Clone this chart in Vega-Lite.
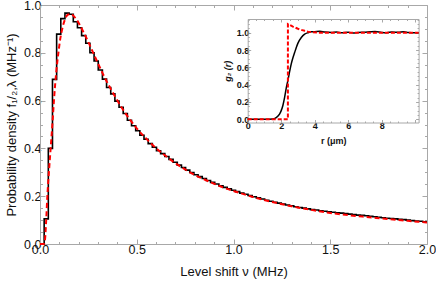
{
  "$schema": "https://vega.github.io/schema/vega-lite/v6.json",
  "width": 387,
  "height": 239,
  "autosize": {"type": "none"},
  "padding": {"left": 40, "top": 5, "right": 9, "bottom": 37},
  "background": "white",
  "config": {
    "view": {"stroke": null},
    "axis": {
      "labelFont": "Liberation Sans",
      "titleFont": "Liberation Sans",
      "labelColor": "#111",
      "titleColor": "#111",
      "domainColor": "#a8a8a8",
      "tickColor": "#a8a8a8",
      "tickWidth": 1,
      "domainWidth": 1,
      "grid": false,
      "labelFlush": false,
      "labelOverlap": false,
      "titleFontWeight": "normal"
    }
  },
  "datasets": {
    "hist": [
      {"nu": 0, "f": 0}, {"nu": 0.0215, "f": 0.105}, {"nu": 0.043, "f": 0.40}, {"nu": 0.0645, "f": 0.689},
      {"nu": 0.086, "f": 0.878}, {"nu": 0.1075, "f": 0.943}, {"nu": 0.129, "f": 0.966}, {"nu": 0.1505, "f": 0.961},
      {"nu": 0.172, "f": 0.93}, {"nu": 0.1935, "f": 0.905}, {"nu": 0.215, "f": 0.872}, {"nu": 0.2365, "f": 0.84},
      {"nu": 0.258, "f": 0.80}, {"nu": 0.2795, "f": 0.766}, {"nu": 0.301, "f": 0.728}, {"nu": 0.3225, "f": 0.69},
      {"nu": 0.344, "f": 0.655}, {"nu": 0.3655, "f": 0.628}, {"nu": 0.387, "f": 0.598}, {"nu": 0.4085, "f": 0.572},
      {"nu": 0.43, "f": 0.546}, {"nu": 0.4515, "f": 0.518}, {"nu": 0.473, "f": 0.495}, {"nu": 0.4945, "f": 0.474},
      {"nu": 0.516, "f": 0.455}, {"nu": 0.5375, "f": 0.438}, {"nu": 0.559, "f": 0.42}, {"nu": 0.5805, "f": 0.405},
      {"nu": 0.602, "f": 0.39}, {"nu": 0.6235, "f": 0.378}, {"nu": 0.645, "f": 0.366}, {"nu": 0.6665, "f": 0.354},
      {"nu": 0.688, "f": 0.342}, {"nu": 0.7095, "f": 0.33}, {"nu": 0.731, "f": 0.32}, {"nu": 0.7525, "f": 0.309},
      {"nu": 0.774, "f": 0.299}, {"nu": 0.7955, "f": 0.29}, {"nu": 0.817, "f": 0.282}, {"nu": 0.8385, "f": 0.274},
      {"nu": 0.86, "f": 0.266}, {"nu": 0.8815, "f": 0.258}, {"nu": 0.903, "f": 0.251}, {"nu": 0.9245, "f": 0.244},
      {"nu": 0.946, "f": 0.237}, {"nu": 0.9675, "f": 0.231}, {"nu": 0.989, "f": 0.225}, {"nu": 1.0105, "f": 0.219},
      {"nu": 1.032, "f": 0.213}, {"nu": 1.0535, "f": 0.208}, {"nu": 1.075, "f": 0.203}, {"nu": 1.0965, "f": 0.198},
      {"nu": 1.118, "f": 0.193}, {"nu": 1.1395, "f": 0.188}, {"nu": 1.161, "f": 0.183}, {"nu": 1.1825, "f": 0.179},
      {"nu": 1.204, "f": 0.175}, {"nu": 1.2255, "f": 0.171}, {"nu": 1.247, "f": 0.167}, {"nu": 1.2685, "f": 0.163},
      {"nu": 1.29, "f": 0.16}, {"nu": 1.3115, "f": 0.156}, {"nu": 1.333, "f": 0.153}, {"nu": 1.3545, "f": 0.15},
      {"nu": 1.376, "f": 0.147}, {"nu": 1.3975, "f": 0.144}, {"nu": 1.419, "f": 0.142}, {"nu": 1.4405, "f": 0.139},
      {"nu": 1.462, "f": 0.137}, {"nu": 1.4835, "f": 0.135}, {"nu": 1.505, "f": 0.133}, {"nu": 1.5265, "f": 0.131},
      {"nu": 1.548, "f": 0.129}, {"nu": 1.5695, "f": 0.127}, {"nu": 1.591, "f": 0.125}, {"nu": 1.6125, "f": 0.123},
      {"nu": 1.634, "f": 0.121}, {"nu": 1.6555, "f": 0.12}, {"nu": 1.677, "f": 0.118}, {"nu": 1.6985, "f": 0.116},
      {"nu": 1.72, "f": 0.114}, {"nu": 1.7415, "f": 0.112}, {"nu": 1.763, "f": 0.11}, {"nu": 1.7845, "f": 0.108},
      {"nu": 1.806, "f": 0.107}, {"nu": 1.8275, "f": 0.105}, {"nu": 1.849, "f": 0.103}, {"nu": 1.8705, "f": 0.102},
      {"nu": 1.892, "f": 0.1}, {"nu": 1.9135, "f": 0.098}, {"nu": 1.935, "f": 0.096}, {"nu": 1.9565, "f": 0.095},
      {"nu": 1.978, "f": 0.093}, {"nu": 2.0, "f": 0.093}
    ],
    "theory": [
      {"nu": 0, "f": 0}, {"nu": 0.02, "f": 0}, {"nu": 0.026, "f": 0.02}, {"nu": 0.032, "f": 0.1},
      {"nu": 0.038, "f": 0.2}, {"nu": 0.046, "f": 0.3}, {"nu": 0.055, "f": 0.4}, {"nu": 0.064, "f": 0.5},
      {"nu": 0.072, "f": 0.6}, {"nu": 0.084, "f": 0.72}, {"nu": 0.095, "f": 0.8}, {"nu": 0.105, "f": 0.86},
      {"nu": 0.115, "f": 0.9}, {"nu": 0.13, "f": 0.942}, {"nu": 0.145, "f": 0.96}, {"nu": 0.16, "f": 0.962},
      {"nu": 0.18, "f": 0.948}, {"nu": 0.2, "f": 0.925}, {"nu": 0.225, "f": 0.886}, {"nu": 0.25, "f": 0.845},
      {"nu": 0.275, "f": 0.8}, {"nu": 0.3, "f": 0.755}, {"nu": 0.325, "f": 0.712}, {"nu": 0.35, "f": 0.672},
      {"nu": 0.375, "f": 0.636}, {"nu": 0.4, "f": 0.6}, {"nu": 0.45, "f": 0.537}, {"nu": 0.5, "f": 0.484},
      {"nu": 0.55, "f": 0.44}, {"nu": 0.6, "f": 0.401}, {"nu": 0.65, "f": 0.368}, {"nu": 0.7, "f": 0.338},
      {"nu": 0.75, "f": 0.312}, {"nu": 0.8, "f": 0.289}, {"nu": 0.85, "f": 0.27}, {"nu": 0.9, "f": 0.252},
      {"nu": 0.95, "f": 0.236}, {"nu": 1.0, "f": 0.222}, {"nu": 1.1, "f": 0.197}, {"nu": 1.2, "f": 0.176},
      {"nu": 1.3, "f": 0.158}, {"nu": 1.4, "f": 0.143}, {"nu": 1.5, "f": 0.13}, {"nu": 1.6, "f": 0.12},
      {"nu": 1.7, "f": 0.112}, {"nu": 1.8, "f": 0.104}, {"nu": 1.9, "f": 0.097}, {"nu": 2.0, "f": 0.09}
    ],
    "g2sim": [
      {"r": 0, "g": 0}, {"r": 0.5, "g": 0}, {"r": 1.0, "g": 0}, {"r": 1.5, "g": 0.002},
      {"r": 1.7, "g": 0.02}, {"r": 1.9, "g": 0.06}, {"r": 2.0, "g": 0.1}, {"r": 2.1, "g": 0.16},
      {"r": 2.2, "g": 0.25}, {"r": 2.3, "g": 0.36}, {"r": 2.4, "g": 0.45}, {"r": 2.5, "g": 0.55},
      {"r": 2.6, "g": 0.64}, {"r": 2.7, "g": 0.71}, {"r": 2.8, "g": 0.77}, {"r": 2.9, "g": 0.83},
      {"r": 3.0, "g": 0.88}, {"r": 3.2, "g": 0.945}, {"r": 3.4, "g": 0.983}, {"r": 3.6, "g": 1.0},
      {"r": 3.8, "g": 1.01}, {"r": 4.0, "g": 1.012}, {"r": 4.3, "g": 1.016}, {"r": 4.6, "g": 1.008},
      {"r": 5.0, "g": 1.003}, {"r": 5.3, "g": 1.007}, {"r": 5.6, "g": 1.0}, {"r": 6.0, "g": 1.005},
      {"r": 6.3, "g": 0.996}, {"r": 6.6, "g": 1.003}, {"r": 7.0, "g": 1.006}, {"r": 7.3, "g": 1.01},
      {"r": 7.6, "g": 1.013}, {"r": 8.0, "g": 1.003}, {"r": 8.3, "g": 1.0}, {"r": 8.6, "g": 1.008},
      {"r": 9.0, "g": 1.004}, {"r": 9.3, "g": 1.01}, {"r": 9.6, "g": 1.003}, {"r": 10.0, "g": 1.0},
      {"r": 10.2, "g": 1.0}
    ],
    "g2theory": [
      {"r": 0, "g": 0}, {"r": 2.399, "g": 0}, {"r": 2.4, "g": 1.1}, {"r": 2.7, "g": 1.07},
      {"r": 3.0, "g": 1.045}, {"r": 3.2, "g": 1.032}, {"r": 3.4, "g": 1.022}, {"r": 3.6, "g": 1.012},
      {"r": 3.8, "g": 1.006}, {"r": 4.2, "g": 1.0}, {"r": 10.2, "g": 1.0}
    ]
  },
  "layer": [
    {
      "data": {"name": "hist"},
      "mark": {"type": "line", "interpolate": "step-after", "color": "#000000", "strokeWidth": 1.6},
      "encoding": {
        "x": {
          "field": "nu", "type": "quantitative",
          "scale": {"domain": [0, 2], "nice": false, "zero": false},
          "axis": {
            "orient": "bottom",
            "title": "Level shift ν (MHz)",
            "values": [0, 0.1, 0.2, 0.3, 0.4, 0.5, 0.6, 0.7, 0.8, 0.9, 1.0, 1.1, 1.2, 1.3, 1.4, 1.5, 1.6, 1.7, 1.8, 1.9, 2.0],
            "labelExpr": "abs(datum.value*2 - round(datum.value*2)) < 0.001 ? format(datum.value, '.1f') : ''",
            "tickSize": {"condition": {"test": "abs(datum.value*2 - round(datum.value*2)) < 0.001", "value": -5}, "value": -2.5},
            "labelFontSize": 12.5,
            "titleFontSize": 13,
            "labelPadding": 4,
            "titlePadding": 7
          }
        },
        "y": {
          "field": "f", "type": "quantitative",
          "scale": {"domain": [0, 1], "nice": false, "zero": false},
          "axis": {
            "orient": "left",
            "title": "Probability density f₁/₂,λ (MHz⁻¹)",
            "values": [0, 0.05, 0.1, 0.15, 0.2, 0.25, 0.3, 0.35, 0.4, 0.45, 0.5, 0.55, 0.6, 0.65, 0.7, 0.75, 0.8, 0.85, 0.9, 0.95, 1.0],
            "labelExpr": "abs(datum.value*5 - round(datum.value*5)) < 0.001 ? format(datum.value, '.1f') : ''",
            "tickSize": {"condition": {"test": "abs(datum.value*5 - round(datum.value*5)) < 0.001", "value": -5}, "value": -2.5},
            "labelFontSize": 12.5,
            "titleFontSize": 13,
            "labelPadding": 4,
            "titlePadding": 5
          }
        }
      }
    },
    {
      "data": {"name": "theory"},
      "mark": {"type": "line", "interpolate": "monotone", "color": "#ff0000", "strokeWidth": 2, "strokeDash": [5, 3]},
      "encoding": {
        "x": {
          "field": "nu", "type": "quantitative",
          "scale": {"domain": [0, 2], "nice": false, "zero": false},
          "axis": {
            "orient": "top", "title": null, "labels": false,
            "values": [0, 0.1, 0.2, 0.3, 0.4, 0.5, 0.6, 0.7, 0.8, 0.9, 1.0, 1.1, 1.2, 1.3, 1.4, 1.5, 1.6, 1.7, 1.8, 1.9, 2.0],
            "tickSize": {"condition": {"test": "abs(datum.value*2 - round(datum.value*2)) < 0.001", "value": -5}, "value": -2.5}
          }
        },
        "y": {
          "field": "f", "type": "quantitative",
          "scale": {"domain": [0, 1], "nice": false, "zero": false},
          "axis": {
            "orient": "right", "title": null, "labels": false,
            "values": [0, 0.05, 0.1, 0.15, 0.2, 0.25, 0.3, 0.35, 0.4, 0.45, 0.5, 0.55, 0.6, 0.65, 0.7, 0.75, 0.8, 0.85, 0.9, 0.95, 1.0],
            "tickSize": {"condition": {"test": "abs(datum.value*5 - round(datum.value*5)) < 0.001", "value": -5}, "value": -2.5}
          }
        }
      }
    },
    {
      "data": {"name": "g2sim"},
      "mark": {"type": "line", "interpolate": "monotone", "color": "#000000", "strokeWidth": 1.5},
      "encoding": {
        "x": {
          "field": "r", "type": "quantitative",
          "scale": {"domain": [0, 10.2], "range": [207.7, 378.6], "nice": false, "zero": false},
          "axis": {
            "orient": "bottom", "offset": -121.5,
            "title": "r (μm)",
            "values": [0, 0.5, 1, 1.5, 2, 2.5, 3, 3.5, 4, 4.5, 5, 5.5, 6, 6.5, 7, 7.5, 8, 8.5, 9, 9.5, 10],
            "labelExpr": "abs(datum.value/2 - round(datum.value/2)) < 0.001 && datum.value < 9 ? format(datum.value, 'd') : ''",
            "tickSize": {"condition": {"test": "abs(datum.value/2 - round(datum.value/2)) < 0.001", "value": -3}, "value": -1.5},
            "labelFontSize": 9, "labelFontWeight": "bold",
            "titleFontSize": 9, "titleFontWeight": "bold",
            "labelPadding": 2, "titlePadding": 4
          }
        },
        "y": {
          "field": "g", "type": "quantitative",
          "scale": {"domain": [-0.037, 1.158], "range": [117.5, 14], "nice": false, "zero": false},
          "axis": {
            "orient": "left", "offset": -207.7,
            "title": "g₂ (r)",
            "values": [0, 0.05, 0.1, 0.15, 0.2, 0.25, 0.3, 0.35, 0.4, 0.45, 0.5, 0.55, 0.6, 0.65, 0.7, 0.75, 0.8, 0.85, 0.9, 0.95, 1.0, 1.05, 1.1, 1.15],
            "labelExpr": "abs(datum.value*5 - round(datum.value*5)) < 0.001 ? format(datum.value, '.1f') : ''",
            "tickSize": {"condition": {"test": "abs(datum.value*5 - round(datum.value*5)) < 0.001", "value": -3}, "value": -1.5},
            "labelFontSize": 9, "labelFontWeight": "bold",
            "titleFontSize": 9, "titleFontWeight": "bold", "titleFontStyle": "italic",
            "labelPadding": 2, "titlePadding": 4
          }
        }
      }
    },
    {
      "data": {"name": "g2theory"},
      "mark": {"type": "line", "color": "#ff0000", "strokeWidth": 2, "strokeDash": [4, 2]},
      "encoding": {
        "x": {
          "field": "r", "type": "quantitative",
          "scale": {"domain": [0, 10.2], "range": [207.7, 378.6], "nice": false, "zero": false},
          "axis": {
            "orient": "top", "offset": -14, "title": null, "labels": false,
            "values": [0, 0.5, 1, 1.5, 2, 2.5, 3, 3.5, 4, 4.5, 5, 5.5, 6, 6.5, 7, 7.5, 8, 8.5, 9, 9.5, 10],
            "tickSize": {"condition": {"test": "abs(datum.value/2 - round(datum.value/2)) < 0.001", "value": -3}, "value": -1.5}
          }
        },
        "y": {
          "field": "g", "type": "quantitative",
          "scale": {"domain": [-0.037, 1.158], "range": [117.5, 14], "nice": false, "zero": false},
          "axis": {
            "orient": "right", "offset": -8.4, "title": null, "labels": false,
            "values": [0, 0.05, 0.1, 0.15, 0.2, 0.25, 0.3, 0.35, 0.4, 0.45, 0.5, 0.55, 0.6, 0.65, 0.7, 0.75, 0.8, 0.85, 0.9, 0.95, 1.0, 1.05, 1.1, 1.15],
            "tickSize": {"condition": {"test": "abs(datum.value*5 - round(datum.value*5)) < 0.001", "value": -3}, "value": -1.5}
          }
        }
      }
    }
  ],
  "resolve": {
    "scale": {"x": "independent", "y": "independent"},
    "axis": {"x": "independent", "y": "independent"}
  }
}
